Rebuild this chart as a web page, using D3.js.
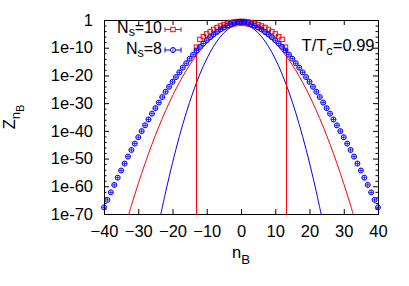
<!DOCTYPE html>
<html><head><meta charset="utf-8">
<script src="https://cdn.jsdelivr.net/npm/d3@7"></script>
<style>body{margin:0;background:#fff}svg{display:block;font-family:"Liberation Sans",Arial,Helvetica,sans-serif}</style>
</head><body><svg id="c" width="409" height="286"></svg>
<script>
// ---- data (log10 of Z) ----
const blueN = [-40,-39,-38,-37,-36,-35,-34,-33,-32,-31,-30,-29,-28,-27,-26,-25,-24,-23,-22,-21,-20,-19,-18,-17,-16,-15,-14,-13,-12,-11,-10,-9,-8,-7,-6,-5,-4,-3,-2,-1,0,1,2,3,4,5,6,7,8,9,10,11,12,13,14,15,16,17,18,19,20,21,22,23,24,25,26,27,28,29,30,31,32,33,34,35,36,37,38,39,40];
const blueLogZ = [-67.6,-64.9,-62.2,-59.5,-56.9,-54.3,-51.8,-49.3,-46.9,-44.6,-42.3,-40.1,-38.0,-35.9,-33.8,-31.8,-29.8,-27.8,-25.9,-24.1,-22.3,-20.6,-18.9,-17.2,-15.6,-14.0,-12.5,-11.0,-9.7,-8.5,-7.3,-6.2,-5.2,-4.3,-3.4,-2.7,-2.0,-1.4,-1.0,-0.7,-0.6,-0.7,-1.0,-1.4,-2.0,-2.7,-3.4,-4.3,-5.2,-6.2,-7.3,-8.5,-9.7,-11.0,-12.5,-14.0,-15.6,-17.2,-18.9,-20.6,-22.3,-24.1,-25.9,-27.8,-29.8,-31.8,-33.8,-35.9,-38.0,-40.1,-42.3,-44.6,-46.9,-49.3,-51.8,-54.3,-56.9,-59.5,-62.2,-64.9,-67.6];
const redN = [-13,-12,-11,-10,-9,-8,-7,-6,-5,-4,-3,-2,-1,0,1,2,3,4,5,6,7,8,9,10,11,12,13];
const redLogZ = [-9.8,-7.0,-6.0,-5.0,-4.2,-3.4,-2.7,-2.15,-1.65,-1.25,-0.9,-0.7,-0.55,-0.5,-0.55,-0.7,-0.9,-1.25,-1.65,-2.15,-2.7,-3.4,-4.2,-5.0,-6.0,-7.0,-9.8];
// lower end of the error bar (log10), null = bar hidden inside marker
const redErrLow = [-200,null,null,null,null,null,null,null,null,null,null,null,null,null,null,null,null,null,null,null,null,null,null,null,null,null,-200];
// fit curves
const redFitN = [-34,-32,-30,-28,-26,-24,-22,-20,-18,-16,-14,-12,-10,-8,-6,-4,-2,0,2,4,6,8,10,12,14,16,18,20,22,24,26,28,30,32,34];
const redFitLogZ = [-75.29,-66.92,-59.06,-51.71,-44.86,-38.52,-32.69,-27.36,-22.54,-18.23,-14.43,-11.13,-8.34,-6.06,-4.28,-3.01,-2.25,-2.0,-2.25,-3.01,-4.28,-6.06,-8.34,-11.13,-14.43,-18.23,-22.54,-27.36,-32.69,-38.52,-44.86,-51.71,-59.06,-66.92,-75.29];
const blueFitN = [-24,-22,-20,-18,-16,-14,-12,-10,-8,-6,-4,-2,0,2,4,6,8,10,12,14,16,18,20,22,24];
const blueFitLogZ = [-73.56,-62.05,-51.54,-42.03,-33.53,-26.02,-19.51,-14.01,-9.51,-6.0,-3.5,-2.0,-1.5,-2.0,-3.5,-6.0,-9.51,-14.01,-19.51,-26.02,-33.53,-42.03,-51.54,-62.05,-73.56];
// ticks
const xTicks = [-40,-30,-20,-10,0,10,20,30,40];
const yTickVals = [1,1e-10,1e-20,1e-30,1e-40,1e-50,1e-60,1e-70];
const yTickLabels = ["1","1e-10","1e-20","1e-30","1e-40","1e-50","1e-60","1e-70"];
const yMinorExp = [-2,-4,-6,-8,-12,-14,-16,-18,-22,-24,-26,-28,-32,-34,-36,-38,-42,-44,-46,-48,-52,-54,-56,-58,-62,-64,-66,-68];
const legendLabels = [{main:"N",sub:"s",rest:"=10"},{main:"N",sub:"s",rest:"=8"}];
const RED = "#ff0000", BLUE = "#0000ff";

const svg = d3.select("#c");
const L=104, R=378, T=20, B=214, FS=16.5, LFS=16;
const x = d3.scaleLinear().domain([-40,40]).range([L,R]);
const y = d3.scaleLog().domain([1e-70,1]).range([B,T]);
const p10 = e => Math.pow(10,e);

svg.append("rect").attr("width",409).attr("height",286).attr("fill","#fff");
svg.append("clipPath").attr("id","clip").append("rect").attr("x",L).attr("y",T).attr("width",R-L+1).attr("height",B-T+1);

function styleAxis(g){
  g.select(".domain").remove();
  g.attr("font-size",FS).attr("font-family","'Liberation Sans',Arial,sans-serif");
  g.selectAll("line").attr("stroke","#000");
  g.selectAll("text").attr("fill","#000");
}
svg.append("g").attr("transform",`translate(0,${B})`)
  .call(d3.axisBottom(x).tickValues(xTicks).tickSizeInner(-5).tickSizeOuter(0).tickPadding(11))
  .call(styleAxis);
svg.append("g").attr("transform",`translate(0,${T})`)
  .call(d3.axisTop(x).tickValues(xTicks).tickSizeInner(-5).tickSizeOuter(0).tickFormat(""))
  .call(styleAxis);
svg.append("g").attr("transform",`translate(${L},0)`)
  .call(d3.axisLeft(y).tickValues(yTickVals).tickFormat((d,i)=>yTickLabels[i]).tickSizeInner(-5).tickSizeOuter(0).tickPadding(11))
  .call(styleAxis);
svg.append("g").attr("transform",`translate(${R},0)`)
  .call(d3.axisRight(y).tickValues(yTickVals).tickFormat("").tickSizeInner(-5).tickSizeOuter(0))
  .call(styleAxis);
svg.append("g").attr("transform",`translate(${L},0)`)
  .call(d3.axisLeft(y).tickValues(yMinorExp.map(p10)).tickFormat("").tickSizeInner(-2.5).tickSizeOuter(0))
  .call(styleAxis);
svg.append("g").attr("transform",`translate(${R},0)`)
  .call(d3.axisRight(y).tickValues(yMinorExp.map(p10)).tickFormat("").tickSizeInner(-2.5).tickSizeOuter(0))
  .call(styleAxis);

svg.append("rect").attr("x",L+0.5).attr("y",T+0.5).attr("width",R-L).attr("height",B-T)
  .attr("fill","none").attr("stroke","#000").attr("stroke-width",1);

const plot = svg.append("g");
const clipped = plot.append("g").attr("clip-path","url(#clip)");

// red squares
const S=4.4;
plot.selectAll(".sq").data(redN.map((n,i)=>({n,v:redLogZ[i]}))).enter().append("rect")
  .attr("x",d=>x(d.n)-S/2).attr("y",d=>y(p10(d.v))-S/2).attr("width",S).attr("height",S)
  .attr("fill","none").attr("stroke",RED).attr("stroke-width",1);

// blue circles with cross
const r=2.5;
const bg = plot.selectAll(".ci").data(blueN.map((n,i)=>({n,v:blueLogZ[i]}))).enter().append("g")
  .attr("transform",d=>`translate(${x(d.n)},${y(p10(d.v))})`);
bg.append("circle").attr("r",r).attr("fill","none").attr("stroke",BLUE).attr("stroke-width",1);
bg.append("path").attr("d",`M${-r},0H${r}M0,${-r}V${r}`).attr("stroke",BLUE).attr("stroke-width",0.8);

// fit lines
const line = d3.line().x(d=>x(d[0])).y(d=>y(p10(d[1]))).curve(d3.curveCatmullRom);
clipped.append("path").datum(redFitN.map((n,i)=>[n,redFitLogZ[i]])).attr("d",line)
  .attr("fill","none").attr("stroke",RED).attr("stroke-width",1);
clipped.append("path").datum(blueFitN.map((n,i)=>[n,blueFitLogZ[i]])).attr("d",line)
  .attr("fill","none").attr("stroke",BLUE).attr("stroke-width",1);

// red error bars (drawn last so they stay red)
clipped.selectAll(".rerr").data(redN.map((n,i)=>({n,v:redLogZ[i],lo:redErrLow[i]})).filter(d=>d.lo!==null))
  .enter().append("line")
  .attr("x1",d=>Math.round(x(d.n))+0.5).attr("x2",d=>Math.round(x(d.n))+0.5)
  .attr("y1",d=>y(p10(d.v))+2.2).attr("y2",d=>Math.min(B+5,y(Math.max(p10(d.lo),1e-80))))
  .attr("stroke",RED).attr("stroke-width",1);

// legend
const legBase = [33, 53.5];
const legColors = [RED, BLUE];
legendLabels.forEach((lb,i)=>{
  const t = svg.append("text").attr("x",162).attr("y",legBase[i]).attr("text-anchor","end")
    .attr("font-size",LFS).attr("fill","#000");
  t.append("tspan").text(lb.main);
  t.append("tspan").attr("font-size",LFS*0.78).attr("dy",3).text(lb.sub);
  t.append("tspan").attr("dy",-3).text(lb.rest);
  const g = svg.append("g").attr("stroke",legColors[i]).attr("fill","none").attr("stroke-width",1);
  const cy = legBase[i]-3.5;
  g.append("path").attr("d",`M165,${cy}H181M165,${cy-2.5}V${cy+2.5}M181,${cy-2.5}V${cy+2.5}`);
  if(i===0) g.append("rect").attr("x",173-S/2).attr("y",cy-S/2).attr("width",S).attr("height",S).attr("fill","#fff");
  else { g.append("circle").attr("cx",173).attr("cy",cy).attr("r",r).attr("fill","#fff");
         g.append("path").attr("d",`M${173},${cy-r}V${cy+r}`).attr("stroke-width",0.8); }
});

// T/Tc annotation
const tt = svg.append("text").attr("x",374.5).attr("y",50.7).attr("text-anchor","end").attr("font-size",FS).attr("fill","#000");
tt.append("tspan").text("T/T");
tt.append("tspan").attr("font-size",FS*0.78).attr("dy",4).text("c");
tt.append("tspan").attr("dy",-4).text("=0.99");

// axis labels
const xl = svg.append("text").attr("x",241).attr("y",258.3).attr("text-anchor","middle").attr("font-size",FS).attr("fill","#000");
xl.append("tspan").text("n");
xl.append("tspan").attr("font-size",FS*0.8).attr("dy",6).text("B");

const yl = svg.append("text").attr("transform","translate(15,117) rotate(-90)").attr("text-anchor","middle").attr("font-size",FS).attr("fill","#000");
yl.append("tspan").text("Z");
yl.append("tspan").attr("font-size",FS*0.8).attr("dy",5).text("n");
yl.append("tspan").attr("font-size",FS*0.64).attr("dy",3.5).text("B");
</script></body></html>
